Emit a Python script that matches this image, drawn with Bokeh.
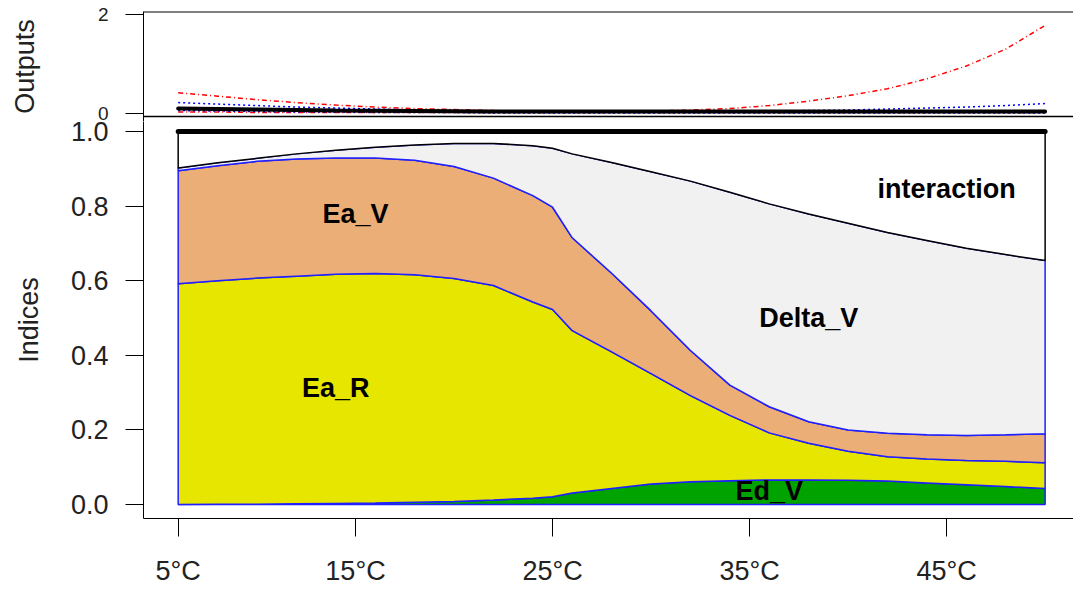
import numpy as np
from bokeh.plotting import figure
from bokeh.layouts import column
from bokeh.models import Range1d, FixedTicker, PrintfTickFormatter, Span
from bokeh.core.properties import value
from bokeh.embed import file_html
from bokeh.resources import INLINE

# ---------------- data ----------------
temps = [6, 8, 10, 12, 14, 16, 18, 20, 22, 24, 25, 26, 28, 30, 32, 34, 36, 38, 40, 42, 44, 46, 48, 50]

# cumulative (stacked) upper bounds of the sensitivity indices
ed_v_top = [0.000, 0.001, 0.001, 0.002, 0.003, 0.004, 0.006, 0.008, 0.012, 0.017, 0.021, 0.031,
            0.043, 0.055, 0.061, 0.064, 0.066, 0.066, 0.065, 0.063, 0.058, 0.053, 0.048, 0.043]
ea_r_top = [0.592, 0.600, 0.607, 0.612, 0.617, 0.619, 0.616, 0.606, 0.587, 0.543, 0.523, 0.466,
            0.409, 0.351, 0.292, 0.239, 0.192, 0.164, 0.143, 0.128, 0.122, 0.118, 0.116, 0.112]
ea_v_top = [0.895, 0.908, 0.920, 0.926, 0.929, 0.929, 0.923, 0.906, 0.875, 0.828, 0.797, 0.715,
            0.620, 0.519, 0.413, 0.320, 0.262, 0.222, 0.200, 0.191, 0.187, 0.185, 0.187, 0.190]
delta_v_top = [0.902, 0.916, 0.928, 0.940, 0.950, 0.958, 0.964, 0.968, 0.968, 0.962, 0.955, 0.940,
               0.917, 0.892, 0.867, 0.837, 0.806, 0.779, 0.754, 0.729, 0.708, 0.687, 0.670, 0.654]
interaction_top = [1.00] * len(temps)

# outputs panel series
out_mean = [0.10, 0.09, 0.08, 0.07, 0.06, 0.055, 0.05, 0.045, 0.04, 0.04, 0.04, 0.04,
            0.04, 0.04, 0.04, 0.04, 0.04, 0.04, 0.04, 0.04, 0.04, 0.04, 0.04, 0.04]
out_red_hi = [0.42, 0.35, 0.28, 0.22, 0.17, 0.13, 0.10, 0.08, 0.06, 0.05, 0.05, 0.04,
              0.04, 0.05, 0.07, 0.10, 0.16, 0.25, 0.36, 0.50, 0.70, 0.96, 1.30, 1.78]
out_red_lo = [0.03, 0.03, 0.02, 0.02, 0.02, 0.02, 0.02, 0.02, 0.02, 0.02, 0.02, 0.02,
              0.02, 0.02, 0.02, 0.02, 0.02, 0.02, 0.02, 0.02, 0.02, 0.02, 0.02, 0.02]
out_blue_hi = [0.22, 0.19, 0.16, 0.13, 0.11, 0.09, 0.07, 0.06, 0.05, 0.05, 0.05, 0.05,
               0.05, 0.05, 0.05, 0.05, 0.05, 0.06, 0.07, 0.09, 0.11, 0.13, 0.16, 0.20]
out_blue_lo = [0.06, 0.05, 0.04, 0.03, 0.03, 0.02, 0.02, 0.02, 0.01, 0.01, 0.01, 0.01,
               0.01, 0.01, 0.01, 0.01, 0.01, 0.01, 0.01, 0.01, 0.01, 0.01, 0.01, 0.01]

tick_pos = [6, 15, 25, 35, 45]
tick_labels = ["5°C", "15°C", "25°C", "35°C", "45°C"]
index_ticks = [0.0, 0.2, 0.4, 0.6, 0.8, 1.0]
output_ticks = [0, 2]
layer_names = ["Ed_V", "Ea_R", "Ea_V", "Delta_V", "interaction"]

# ---------------- styling / layout ----------------
FONT = "Liberation Sans"
fills = ["#00A300", "#E6E600", "#EAAE76", "#F1F1F1", "#FFFFFF"]
edges = ["#1f1fff", "#1f1fff", "#1f1fff", "#1f1fff", "#000000"]

OUT_LO, OUT_HI = -0.1616, 2.0606
OUT_PANEL_BOTTOM = -0.06

xr = Range1d(4.24, 51.44)

# ---- top panel: outputs ----
top = figure(width=1073, height=121, x_range=xr, y_range=Range1d(OUT_LO, OUT_HI),
             output_backend="svg", toolbar_location=None,
             min_border_left=143, min_border_right=0, min_border_top=11, min_border_bottom=0)
top.xaxis.visible = False
top.grid.visible = False
top.outline_line_color = None
top.yaxis.ticker = FixedTicker(ticks=output_ticks)
top.yaxis.axis_line_color = "black"
top.yaxis.major_tick_out = 18
top.yaxis.major_tick_in = 0
top.yaxis.minor_tick_line_color = None
top.yaxis.major_tick_line_color = "black"
top.yaxis.major_label_text_font = FONT
top.yaxis.major_label_text_font_size = "19px"
top.yaxis.major_label_text_color = "#222222"
top.yaxis.major_label_standoff = 17
top.yaxis.axis_label = "Outputs"
top.yaxis.axis_label_text_font = FONT
top.yaxis.axis_label_text_font_size = "27px"
top.yaxis.axis_label_text_font_style = "normal"
top.yaxis.axis_label_text_color = "#222222"
top.yaxis.axis_label_standoff = 55
# box edges of the outputs panel
top.add_layout(Span(location=OUT_HI, dimension="width", line_color="black", line_width=2))
top.add_layout(Span(location=OUT_PANEL_BOTTOM, dimension="width", line_color="black", line_width=1.5))

top.line(temps, out_red_hi, line_color="red", line_width=1.5, line_dash="5 3 1 3")
top.line(temps, out_red_lo, line_color="red", line_width=1.5, line_dash="5 3 1 3")
top.line(temps, out_blue_hi, line_color="blue", line_width=1.5, line_dash="2 3")
top.line(temps, out_blue_lo, line_color="blue", line_width=1.5, line_dash="2 3")
top.line(temps, out_mean, line_color="black", line_width=4, line_cap="round")

# ---- bottom panel: indices ----
bot = figure(width=1073, height=468, x_range=xr, y_range=Range1d(-0.0375, 1.0268),
             output_backend="svg", toolbar_location=None,
             min_border_left=143, min_border_right=0, min_border_top=0, min_border_bottom=71)
bot.grid.visible = False
bot.outline_line_color = None

bot.yaxis.ticker = FixedTicker(ticks=index_ticks)
bot.yaxis.formatter = PrintfTickFormatter(format="%.1f")
bot.xaxis.ticker = FixedTicker(ticks=tick_pos)
bot.xaxis.major_label_overrides = dict(zip(tick_pos, tick_labels))
for ax in (bot.xaxis, bot.yaxis):
    ax.axis_line_color = "black"
    ax.axis_line_width = 1
    ax.major_tick_out = 18
    ax.major_tick_in = 0
    ax.minor_tick_line_color = None
    ax.major_tick_line_color = "black"
    ax.major_label_text_font = FONT
    ax.major_label_text_font_size = "27px"
    ax.major_label_text_color = "#222222"
bot.yaxis.major_label_standoff = 17
bot.xaxis.major_label_standoff = 19
bot.yaxis.axis_label = "Indices"
bot.yaxis.axis_label_text_font = FONT
bot.yaxis.axis_label_text_font_size = "27px"
bot.yaxis.axis_label_text_font_style = "normal"
bot.yaxis.axis_label_text_color = "#222222"
bot.yaxis.axis_label_standoff = 24

bounds = [np.zeros(len(temps)), np.array(ed_v_top), np.array(ea_r_top),
          np.array(ea_v_top), np.array(delta_v_top), np.array(interaction_top)]
xs = list(temps) + list(temps[::-1])
for i in range(5):
    lo, hi = bounds[i], bounds[i + 1]
    ys = list(hi) + list(lo[::-1])
    bot.patch(xs, ys, fill_color=fills[i], line_color=edges[i], line_width=1.5)

bot.line(temps, interaction_top, line_color="black", line_width=5, line_cap="round")

# region labels (positions are layout, in data units)
lab_x = [36.0, 14.0, 15.0, 38.0, 45.0]
lab_y = [0.035, 0.312, 0.778, 0.500, 0.846]
bot.text(x=lab_x, y=lab_y, text=layer_names, text_font=value(FONT), text_font_style="bold",
         text_font_size="27px", text_align="center", text_baseline="alphabetic", text_color="black")

layout = column(top, bot, spacing=0)
open("out.html", "w").write(file_html(layout, INLINE))
